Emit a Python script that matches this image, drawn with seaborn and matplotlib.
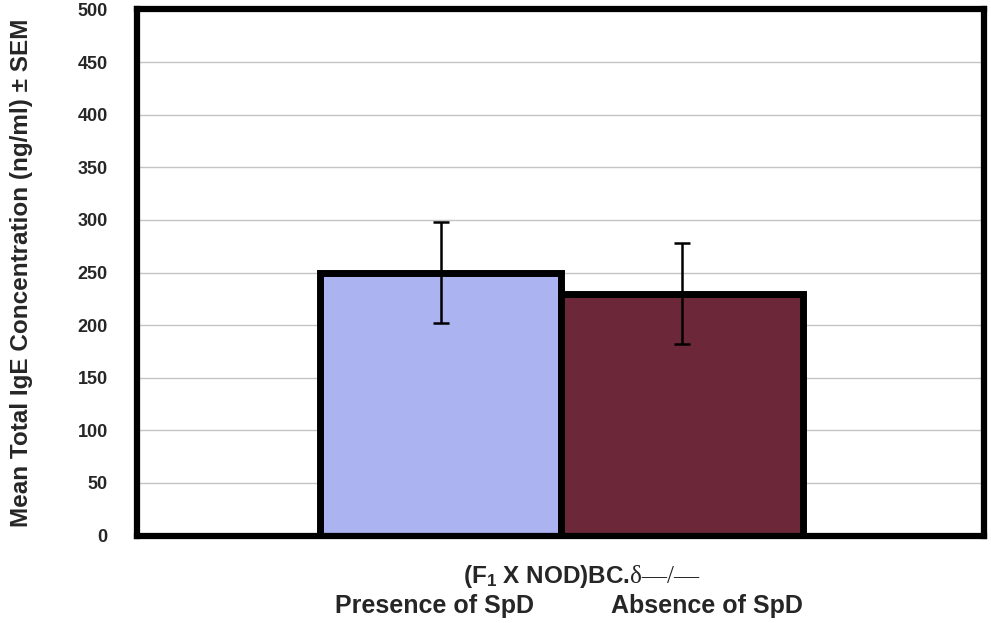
import matplotlib
matplotlib.use("Agg")
import matplotlib.pyplot as plt
import matplotlib.transforms as mtransforms
import seaborn as sns
import pandas as pd

# Serum IgE in (F1 x NOD)BC.delta-/- mice, split by SpD status
groups = ["Presence of SpD", "Absence of SpD"]
mean_ige = [250, 230]
sem_ige = [48, 48]
y_ticks = [0, 50, 100, 150, 200, 250, 300, 350, 400, 450, 500]
bar_colors = ["#abb3f1", "#6c2738"]

df = pd.DataFrame({"group": groups, "mean": mean_ige, "sem": sem_ige})

sns.set_theme(style="white")
plt.rcParams["font.family"] = ["Liberation Sans", "DejaVu Sans"]
plt.rcParams["font.weight"] = "bold"
plt.rcParams["mathtext.fontset"] = "custom"
plt.rcParams["mathtext.rm"] = "Liberation Sans:bold"
plt.rcParams["mathtext.default"] = "rm"

fig = plt.figure(figsize=(9.91, 6.23), dpi=100)
ax = fig.add_axes([0.1382, 0.1403, 0.8547, 0.8446])

sns.barplot(data=df, x="group", y="mean", hue="group", palette=bar_colors,
            saturation=1, width=1.0, errorbar=None, edgecolor="black",
            linewidth=5, legend=False, ax=ax, zorder=2)

ax.errorbar(x=range(len(groups)), y=df["mean"], yerr=df["sem"], fmt="none",
            ecolor="black", elinewidth=1.8, capsize=5.5, capthick=1.8, zorder=3)

ax.set_ylim(0, 500)
ax.set_xlim(-1.258, 2.25)
ax.set_yticks(y_ticks)
ax.set_yticklabels([str(v) for v in y_ticks], fontsize=13, fontweight="bold")
ax.tick_params(axis="y", length=0, pad=21)
ax.tick_params(axis="x", length=0, pad=42)

# group labels, nudged sideways as in the original layout
nudges_px = [-6, 25]
for lbl, dx in zip(ax.get_xticklabels(), nudges_px):
    lbl.set_fontsize(18)
    lbl.set_fontweight("bold")
    lbl.set_transform(lbl.get_transform()
                      + mtransforms.ScaledTranslation(dx / 100, 0, fig.dpi_scale_trans))

ax.yaxis.grid(True, color="#c4c4c4", linewidth=1.0)
ax.set_axisbelow(True)
for sp in ax.spines.values():
    sp.set_visible(True)
    sp.set_color("black")
    sp.set_linewidth(4.5)

ax.set_xlabel("")
ax.set_ylabel("Mean Total IgE Concentration (ng/ml) ± SEM",
              fontsize=17.5, fontweight="bold")
ax.yaxis.set_label_coords(-0.1228, 0.5)

# Strain name above the group labels
base_y = 1 - 583 / 623
fig.text(630 / 991, base_y, "(F$_1$ X NOD)BC.", ha="right", va="baseline",
         fontsize=17.5, fontweight="bold")
fig.text(630 / 991, base_y, "δ—/—", ha="left", va="baseline",
         fontsize=18, fontweight="normal", family=["Liberation Serif", "DejaVu Serif"])

fig.savefig("out.png", dpi=100, facecolor="white")
